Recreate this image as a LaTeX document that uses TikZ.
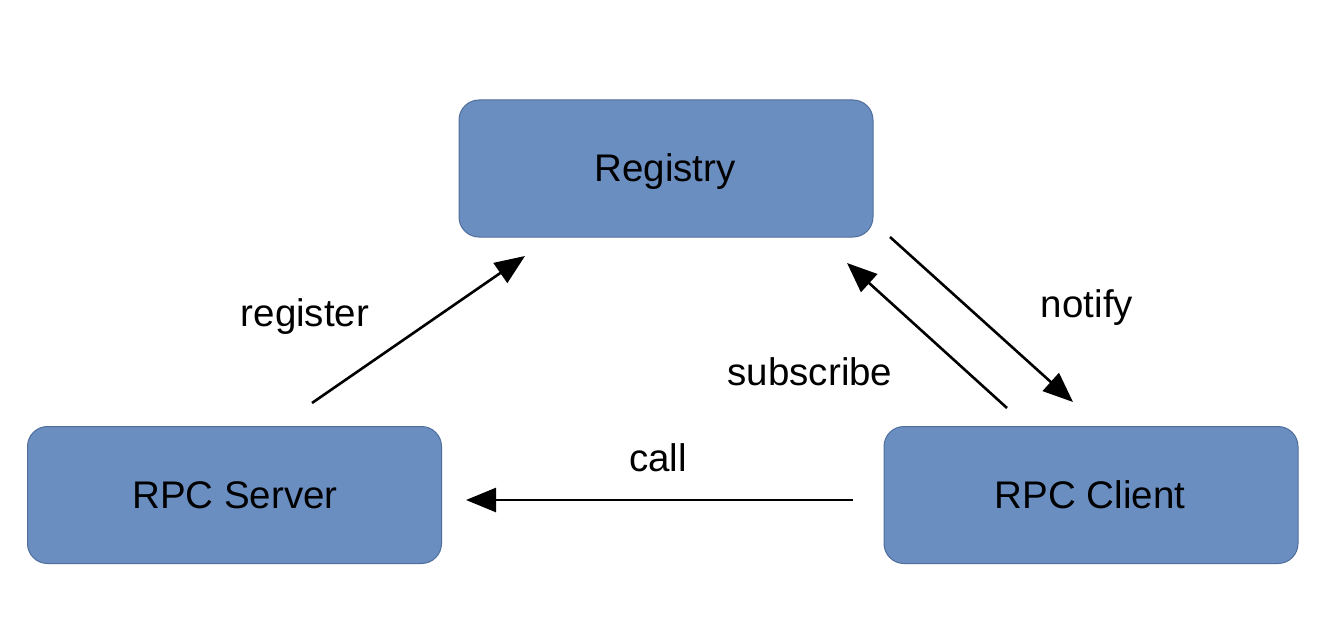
\documentclass[tikz,border=0pt]{standalone}
\usepackage{fontspec}
\setmainfont{Liberation Sans}
\usetikzlibrary{arrows.meta}
\definecolor{boxfill}{HTML}{6B8EC1}
\definecolor{boxline}{HTML}{4F6E9C}
\begin{document}
\begin{tikzpicture}[x=1pt,y=-1pt,
  box/.style={draw=boxline, line width=1pt, fill=boxfill, rounded corners=20pt,
    minimum width=414pt, minimum height=137pt, inner sep=0pt,
    font=\fontsize{38.5}{44}\selectfont},
  lbl/.style={font=\fontsize{38.5}{44}\selectfont, inner sep=0pt},
  conn/.style={line width=2.6pt, -{Triangle[length=30pt,width=24pt]}}]
\useasboundingbox[fill=white] (0,0) rectangle (1318,626);
\node[box] (reg) at (666,168.5) {};
\node[box] (srv) at (234.5,495) {};
\node[box] (cli) at (1091,495) {};
\node[lbl] (treg) at (665,172) {Registry};
\node[lbl] (tsrv) at (235,495) {RPC Server};
\node[lbl] (tcli) at (1090,495) {RPC Client};
\coordinate (regA) at (312,403);
\coordinate (regB) at (525,256);
\coordinate (subA) at (1007,408);
\coordinate (subB) at (847,263);
\coordinate (notA) at (890,237);
\coordinate (notB) at (1073,402);
\coordinate (callA) at (853,500);
\coordinate (callB) at (466,500);
\draw[conn] (regA) -- (regB);
\draw[conn] (subA) -- (subB);
\draw[conn] (notA) -- (notB);
\draw[conn] (callA) -- (callB);
\node[lbl] (lreg) at (305,317) {register};
\node[lbl] (lnot) at (1087,308) {notify};
\node[lbl] (lsub) at (810,372) {subscribe};
\node[lbl] (lcall) at (658,458) {call};
\end{tikzpicture}
\end{document}
